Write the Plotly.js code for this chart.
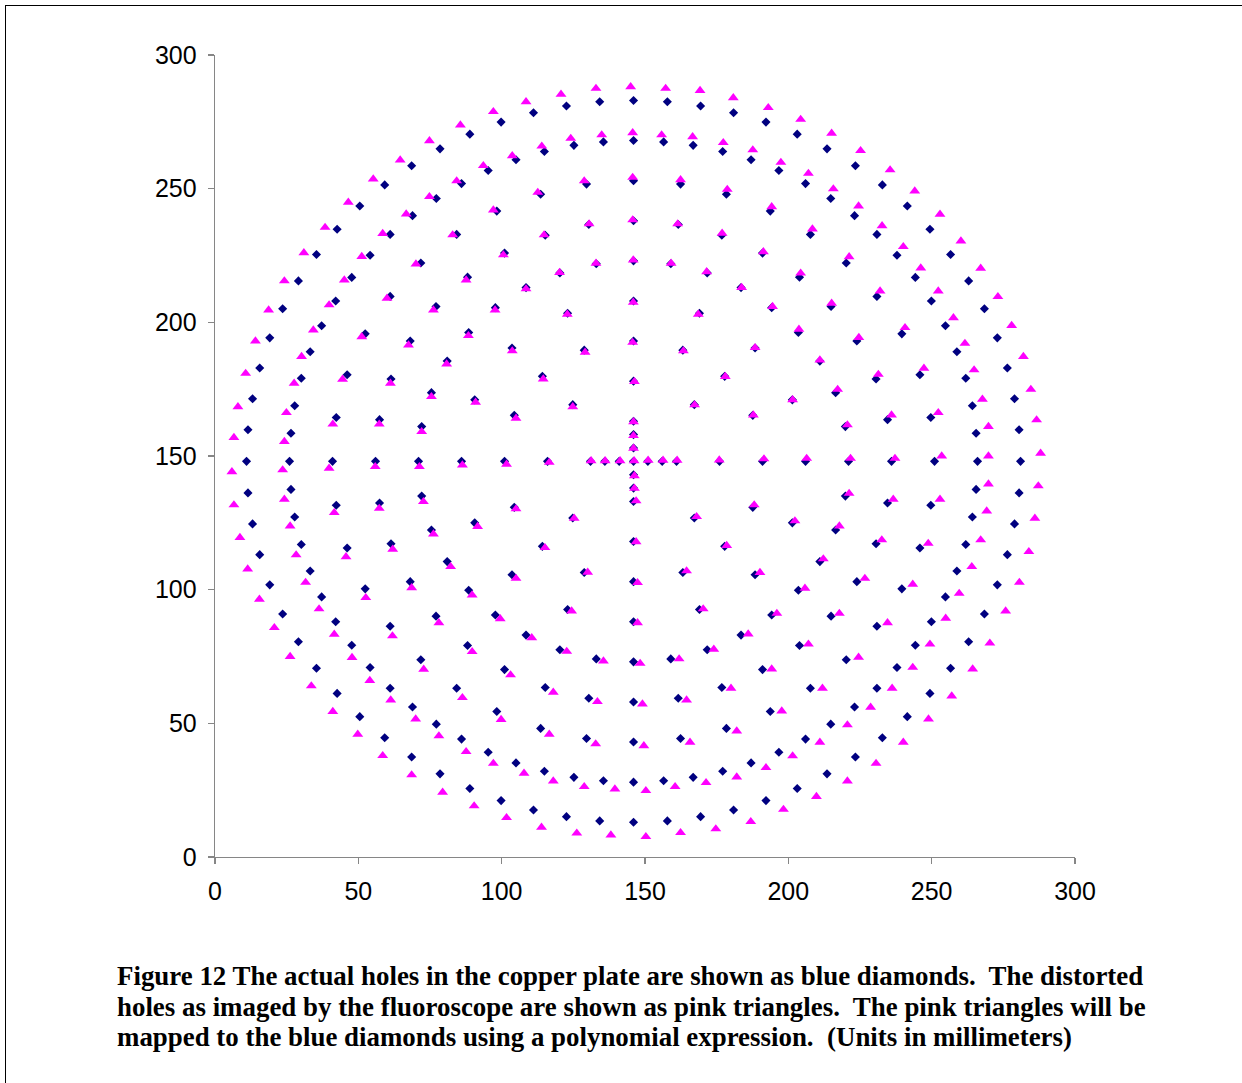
<!DOCTYPE html>
<html>
<head>
<meta charset="utf-8">
<script src="https://cdn.plot.ly/plotly-3.0.1.min.js"></script>
<style>
html,body{margin:0;padding:0;background:#fff;}
#chart{position:absolute;left:0;top:0;width:1242px;height:1083px;}
#border{position:absolute;left:5px;top:5px;width:1240px;height:1090px;border-left:1.5px solid #000;border-top:1.5px solid #000;}
#caption{position:absolute;left:117px;top:961px;font-family:"Liberation Serif","Times New Roman",serif;font-weight:bold;font-size:26.9px;line-height:30.5px;white-space:pre;color:#000;}
</style>
</head>
<body>
<div id="border"></div>
<div id="chart"></div>
<div id="caption">Figure 12 The actual holes in the copper plate are shown as blue diamonds.  The distorted
holes as imaged by the fluoroscope are shown as pink triangles.  The pink triangles will be
mapped to the blue diamonds using a polynomial expression.  (Units in millimeters)</div>
<script>
// Tick values
const xTicks = [0, 50, 100, 150, 200, 250, 300];
const yTicks = [0, 50, 100, 150, 200, 250, 300];

// Actual holes (blue diamonds), ring by ring, [x, y] in mm
const blueCross = [[131,148],[136,148],[141,148],[146,148],[151,148],[156,148],[161,148],[146,163],[146,158],[146,153],[146,143],[146,138],[146,133]];
const blueRing30 = [[176,148],[167.2,169.2],[146,178],[124.8,169.2],[116,148],[124.8,126.8],[146,118],[167.2,126.8]];
const blueRing45 = [[191,148],[187.6,165.2],[177.8,179.8],[163.2,189.6],[146,193],[128.8,189.6],[114.2,179.8],[104.4,165.2],[101,148],[104.4,130.8],[114.2,116.2],[128.8,106.4],[146,103],[163.2,106.4],[177.8,116.2],[187.6,130.8]];
const blueRing60 = [[206,148],[201.4,171],[188.4,190.4],[169,203.4],[146,208],[123,203.4],[103.6,190.4],[90.6,171],[86,148],[90.6,125],[103.6,105.6],[123,92.6],[146,88],[169,92.6],[188.4,105.6],[201.4,125]];
const blueRing75 = [[221.0,148.0],[219.9,161.0],[216.5,173.7],[211.0,185.5],[203.5,196.2],[194.2,205.5],[183.5,213.0],[171.7,218.5],[159.0,221.9],[146.0,223.0],[133.0,221.9],[120.3,218.5],[108.5,213.0],[97.8,205.5],[88.5,196.2],[81.0,185.5],[75.5,173.7],[72.1,161.0],[71.0,148.0],[72.1,135.0],[75.5,122.3],[81.0,110.5],[88.5,99.8],[97.8,90.5],[108.5,83.0],[120.3,77.5],[133.0,74.1],[146.0,73.0],[159.0,74.1],[171.7,77.5],[183.5,83.0],[194.2,90.5],[203.5,99.8],[211.0,110.5],[216.5,122.3],[219.9,135.0]];
const blueRing90 = [[236.0,148.0],[234.6,163.6],[230.6,178.8],[223.9,193.0],[214.9,205.9],[203.9,216.9],[191.0,225.9],[176.8,232.6],[161.6,236.6],[146.0,238.0],[130.4,236.6],[115.2,232.6],[101.0,225.9],[88.1,216.9],[77.1,205.9],[68.1,193.0],[61.4,178.8],[57.4,163.6],[56.0,148.0],[57.4,132.4],[61.4,117.2],[68.1,103.0],[77.1,90.1],[88.1,79.1],[101.0,70.1],[115.2,63.4],[130.4,59.4],[146.0,58.0],[161.6,59.4],[176.8,63.4],[191.0,70.1],[203.9,79.1],[214.9,90.1],[223.9,103.0],[230.6,117.2],[234.6,132.4]];
const blueRing105 = [[251.0,148.0],[249.7,164.4],[245.9,180.4],[239.6,195.7],[230.9,209.7],[220.2,222.2],[207.7,232.9],[193.7,241.6],[178.4,247.9],[162.4,251.7],[146.0,253.0],[129.6,251.7],[113.6,247.9],[98.3,241.6],[84.3,232.9],[71.8,222.2],[61.1,209.7],[52.4,195.7],[46.1,180.4],[42.3,164.4],[41.0,148.0],[42.3,131.6],[46.1,115.6],[52.4,100.3],[61.1,86.3],[71.8,73.8],[84.3,63.1],[98.3,54.4],[113.6,48.1],[129.6,44.3],[146.0,43.0],[162.4,44.3],[178.4,48.1],[193.7,54.4],[207.7,63.1],[220.2,73.8],[230.9,86.3],[239.6,100.3],[245.9,115.6],[249.7,131.6]];
const blueRing120 = [[266.0,148.0],[265.5,158.5],[264.2,168.8],[261.9,179.1],[258.8,189.0],[254.8,198.7],[249.9,208.0],[244.3,216.8],[237.9,225.1],[230.9,232.9],[223.1,239.9],[214.8,246.3],[206.0,251.9],[196.7,256.8],[187.0,260.8],[177.1,263.9],[166.8,266.2],[156.5,267.5],[146.0,268.0],[135.5,267.5],[125.2,266.2],[114.9,263.9],[105.0,260.8],[95.3,256.8],[86.0,251.9],[77.2,246.3],[68.9,239.9],[61.1,232.9],[54.1,225.1],[47.7,216.8],[42.1,208.0],[37.2,198.7],[33.2,189.0],[30.1,179.1],[27.8,168.8],[26.5,158.5],[26.0,148.0],[26.5,137.5],[27.8,127.2],[30.1,116.9],[33.2,107.0],[37.2,97.3],[42.1,88.0],[47.7,79.2],[54.1,70.9],[61.1,63.1],[68.9,56.1],[77.2,49.7],[86.0,44.1],[95.3,39.2],[105.0,35.2],[114.9,32.1],[125.2,29.8],[135.5,28.5],[146.0,28.0],[156.5,28.5],[166.8,29.8],[177.1,32.1],[187.0,35.2],[196.7,39.2],[206.0,44.1],[214.8,49.7],[223.1,56.1],[230.9,63.1],[237.9,70.9],[244.3,79.2],[249.9,88.0],[254.8,97.3],[258.8,107.0],[261.9,116.9],[264.2,127.2],[265.5,137.5]];
const blueRing135 = [[281.0,148.0],[280.5,159.8],[278.9,171.4],[276.4,182.9],[272.9,194.2],[268.4,205.1],[262.9,215.5],[256.6,225.4],[249.4,234.8],[241.5,243.5],[232.8,251.4],[223.4,258.6],[213.5,264.9],[203.1,270.4],[192.2,274.9],[180.9,278.4],[169.4,280.9],[157.8,282.5],[146.0,283.0],[134.2,282.5],[122.6,280.9],[111.1,278.4],[99.8,274.9],[88.9,270.4],[78.5,264.9],[68.6,258.6],[59.2,251.4],[50.5,243.5],[42.6,234.8],[35.4,225.4],[29.1,215.5],[23.6,205.1],[19.1,194.2],[15.6,182.9],[13.1,171.4],[11.5,159.8],[11.0,148.0],[11.5,136.2],[13.1,124.6],[15.6,113.1],[19.1,101.8],[23.6,90.9],[29.1,80.5],[35.4,70.6],[42.6,61.2],[50.5,52.5],[59.2,44.6],[68.6,37.4],[78.5,31.1],[88.9,25.6],[99.8,21.1],[111.1,17.6],[122.6,15.1],[134.2,13.5],[146.0,13.0],[157.8,13.5],[169.4,15.1],[180.9,17.6],[192.2,21.1],[203.1,25.6],[213.5,31.1],[223.4,37.4],[232.8,44.6],[241.5,52.5],[249.4,61.2],[256.6,70.6],[262.9,80.5],[268.4,90.9],[272.9,101.8],[276.4,113.1],[278.9,124.6],[280.5,136.2]];

// Distorted holes from the fluoroscope (pink triangles), [x, y] in mm
const pinkCross = [[131.2,148.2],[136.1,148.2],[141.3,148.2],[146.2,148.2],[151.1,148.4],[156.3,148.4],[161.2,148.4],[146.0,162.8],[146.0,157.6],[146.0,152.9],[146.3,142.6],[146.3,137.9],[146.9,133.2]];
const pinkRing30 = [[175.9,148.5],[167.3,169.1],[146.3,177.8],[124.8,168.4],[116.6,147.6],[125.3,126.7],[146.9,117.9],[168.0,127.3]];
const pinkRing45 = [[191.5,148.9],[187.8,165.3],[178.0,179.7],[163.4,189.3],[145.7,192.5],[129.1,188.8],[114.5,178.8],[105.0,164.1],[101.7,146.9],[105.0,130.2],[115.1,115.7],[130.0,106.5],[147.4,102.6],[164.5,107.0],[178.5,116.5],[188.1,131.7]];
const pinkRing60 = [[206.4,149.1],[201.5,171.0],[188.4,190.5],[168.6,203.0],[145.9,207.5],[122.9,203.0],[103.7,189.3],[90.9,170.1],[86.3,146.6],[91.6,123.6],[105.0,104.2],[124.4,92.0],[147.4,87.6],[170.3,92.8],[190.1,106.4],[202.3,125.7]];
const pinkRing75 = [[221.7,149.1],[220.6,161.6],[217.2,174.9],[211.0,185.9],[203.7,197.4],[194.5,205.9],[183.7,213.0],[171.5,218.9],[159.1,222.1],[145.9,223.3],[132.9,222.1],[120.2,218.6],[108.5,212.5],[97.7,204.6],[88.4,195.0],[80.8,184.4],[75.5,172.2],[72.1,159.1],[71.3,146.0],[72.7,132.9],[76.2,120.8],[82.2,108.6],[89.7,98.0],[99.5,89.1],[110.5,82.0],[122.7,76.9],[135.5,73.3],[148.3,72.4],[161.9,74.1],[174.0,77.7],[186.0,83.4],[196.0,91.1],[205.8,100.5],[212.2,111.5],[217.8,123.8],[221.2,136.0]];
const pinkRing90 = [[237.2,149.1],[236.0,165.3],[231.4,180.5],[224.6,194.3],[215.1,207.1],[204.3,218.4],[191.3,226.4],[176.9,233.3],[161.4,236.8],[145.7,238.3],[130.5,236.8],[114.8,232.7],[100.6,225.2],[87.6,215.8],[76.2,204.6],[67.5,191.5],[61.2,177.2],[57.3,161.9],[55.9,146.0],[57.3,130.4],[62.0,115.1],[68.6,100.7],[78.1,87.6],[89.7,76.8],[103.1,68.1],[118.0,61.6],[133.4,58.1],[149.1,57.2],[164.5,58.7],[180.0,63.1],[194.2,70.3],[207.0,79.6],[217.8,91.1],[226.7,104.2],[232.6,118.6],[236.6,133.8]];
const pinkRing105 = [[253.5,150.0],[252.3,166.2],[247.3,182.8],[240.7,198.0],[232.0,211.7],[221.2,224.5],[208.4,234.9],[194.2,243.2],[178.7,249.7],[162.4,253.3],[145.7,254.2],[128.8,252.9],[112.6,248.6],[97.1,242.0],[82.9,232.7],[70.1,221.8],[60.0,209.0],[51.2,194.6],[44.5,178.7],[41.1,161.9],[39.8,145.4],[41.6,128.8],[45.7,112.3],[52.6,97.0],[61.9,82.7],[72.8,70.2],[86.3,59.6],[99.8,51.4],[116.6,45.9],[132.8,42.3],[149.6,41.6],[165.7,42.9],[182.0,47.1],[197.7,54.6],[211.9,63.1],[224.5,74.7],[234.6,87.6],[243.4,102.0],[248.8,117.3],[252.9,133.8]];
const pinkRing120 = [[269.8,150.0],[269.8,161.0],[267.7,171.2],[264.8,182.2],[261.6,192.1],[257.6,201.7],[252.3,211.7],[246.2,220.3],[240.1,228.3],[232.7,236.1],[224.5,243.5],[215.7,249.9],[207.0,255.7],[197.4,259.8],[187.6,264.5],[177.3,267.2],[166.6,269.4],[155.8,270.1],[145.7,270.9],[134.9,270.1],[124.1,268.8],[114.0,265.9],[103.7,262.3],[93.6,258.6],[84.3,252.9],[74.8,247.0],[66.7,240.5],[58.5,233.2],[51.2,224.6],[45.1,215.8],[39.8,206.5],[34.3,197.1],[30.2,187.2],[27.6,177.2],[24.9,166.2],[24.2,155.4],[23.6,144.8],[24.2,133.8],[26.2,123.8],[28.3,113.0],[31.6,102.7],[36.3,92.8],[41.6,83.3],[47.8,74.6],[54.0,66.0],[61.3,58.7],[70.0,51.6],[78.1,45.3],[87.6,39.4],[97.1,35.0],[107.8,31.3],[118.0,28.4],[128.8,26.3],[139.5,25.4],[150.3,24.8],[160.5,26.3],[171.3,27.8],[182.0,29.9],[192.2,33.4],[201.5,37.8],[211.0,42.9],[220.6,49.4],[228.7,56.0],[236.2,63.1],[243.4,70.9],[249.4,79.6],[254.9,89.3],[259.6,98.6],[264.0,108.6],[267.1,118.6],[269.2,129.4],[269.8,139.5]];
const pinkRing135 = [[288.0,151.0],[286.6,163.5],[284.6,174.9],[282.0,187.2],[277.9,198.8],[273.1,209.6],[267.1,220.2],[260.2,230.4],[252.9,240.4],[244.1,249.1],[235.5,257.0],[225.2,264.2],[215.1,270.7],[204.3,275.9],[193.0,280.3],[180.8,284.0],[169.2,286.7],[157.2,287.5],[145.0,288.1],[132.9,287.5],[120.7,285.3],[108.5,282.5],[97.1,278.8],[85.6,273.8],[74.8,267.9],[64.6,260.7],[55.2,253.6],[46.5,244.9],[38.4,235.5],[31.0,226.0],[24.2,215.5],[18.7,204.6],[14.1,193.0],[10.7,180.9],[8.0,168.4],[6.6,156.9],[5.9,144.1],[6.6,131.7],[8.7,119.5],[11.4,107.7],[15.5,96.4],[20.7,85.8],[26.2,75.0],[33.6,64.0],[41.1,54.4],[49.8,45.9],[58.5,37.9],[68.6,30.7],[79.4,24.2],[90.4,19.1],[101.7,14.7],[113.9,11.1],[126.2,8.9],[138.1,8.2],[150.3,7.6],[162.4,9.1],[174.7,10.5],[186.9,13.2],[198.3,17.8],[209.8,22.6],[220.6,28.4],[230.6,35.0],[240.1,42.9],[248.9,51.6],[257.0,60.2],[264.3,70.3],[270.3,80.0],[275.8,92.0],[280.6,102.7],[283.9,114.2],[286.0,126.7],[287.2,138.8]];

const blueSets = [blueCross, blueRing30, blueRing45, blueRing60, blueRing75, blueRing90, blueRing105, blueRing120, blueRing135];
const pinkSets = [pinkCross, pinkRing30, pinkRing45, pinkRing60, pinkRing75, pinkRing90, pinkRing105, pinkRing120, pinkRing135];

function flatten(sets) {
  const xs = [], ys = [];
  sets.forEach(s => s.forEach(p => { xs.push(p[0]); ys.push(p[1]); }));
  return {xs, ys};
}
const b = flatten(blueSets);
const p = flatten(pinkSets);

const traces = [
  {type: 'scatter', mode: 'markers', name: 'Actual holes', x: b.xs, y: b.ys,
   marker: {symbol: 'diamond', size: 7, color: '#000080', line: {width: 0}}, hoverinfo: 'x+y'},
  {type: 'scatter', mode: 'markers', name: 'Imaged holes', x: p.xs, y: p.ys,
   marker: {symbol: 'triangle-up', size: 9.5, color: '#FF00FF', line: {width: 0}}, hoverinfo: 'x+y'}
];

const axisCommon = {
  range: [0, 300], showgrid: false, zeroline: false, showline: true,
  linecolor: '#868686', linewidth: 1.3, ticks: 'outside', ticklen: 6, tickwidth: 1.3, tickcolor: '#868686',
  tickfont: {family: 'Liberation Sans, Arial, sans-serif', size: 25, color: '#000'},
  ticklabelstandoff: 6,
  fixedrange: true
};

const layout = {
  width: 1242, height: 1083,
  margin: {l: 215, r: 167, t: 55, b: 226, pad: 0},
  paper_bgcolor: 'rgba(0,0,0,0)', plot_bgcolor: 'rgba(0,0,0,0)',
  showlegend: false,
  xaxis: Object.assign({}, axisCommon, {tickvals: xTicks, ticktext: xTicks.map(String)}),
  yaxis: Object.assign({}, axisCommon, {tickvals: yTicks, ticktext: yTicks.map(String)})
};

Plotly.newPlot('chart', traces, layout, {displayModeBar: false, staticPlot: true});
</script>
</body>
</html>
